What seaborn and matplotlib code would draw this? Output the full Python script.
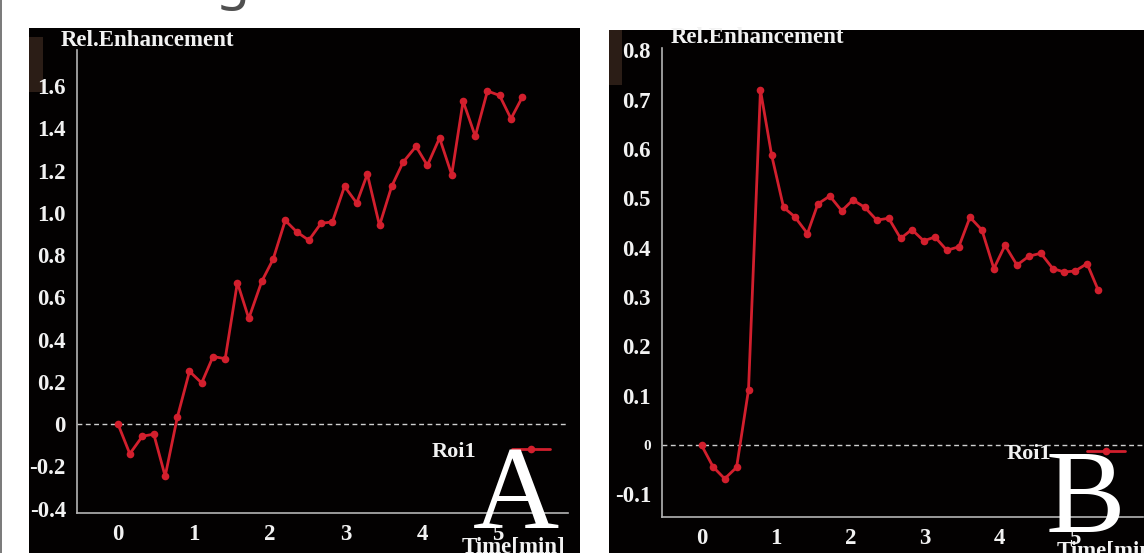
import matplotlib
matplotlib.use("Agg")
import matplotlib.pyplot as plt
from matplotlib.patches import Rectangle
import seaborn as sns
import pandas as pd

# ---------------- data ----------------
time_a = [0.00, 0.155, 0.32, 0.47, 0.62, 0.78, 0.94, 1.10, 1.25, 1.41, 1.57, 1.72,
          1.89, 2.04, 2.20, 2.35, 2.51, 2.67, 2.82, 2.98, 3.14, 3.28, 3.44, 3.60,
          3.75, 3.92, 4.07, 4.23, 4.39, 4.54, 4.70, 4.86, 5.02, 5.17, 5.32]
enh_a = [0.00, -0.14, -0.057, -0.047, -0.246, 0.033, 0.25, 0.195, 0.32, 0.31, 0.67, 0.50,
         0.675, 0.78, 0.964, 0.91, 0.87, 0.95, 0.957, 1.125, 1.046, 1.183, 0.94, 1.125,
         1.239, 1.314, 1.224, 1.354, 1.18, 1.528, 1.362, 1.576, 1.555, 1.445, 1.548]

time_b = [0.00, 0.155, 0.31, 0.47, 0.63, 0.79, 0.94, 1.10, 1.25, 1.42, 1.56, 1.72,
          1.88, 2.03, 2.19, 2.35, 2.51, 2.67, 2.82, 2.98, 3.13, 3.29, 3.45, 3.60,
          3.76, 3.92, 4.07, 4.23, 4.39, 4.55, 4.71, 4.86, 5.01, 5.17, 5.32]
enh_b = [0.00, -0.044, -0.068, -0.045, 0.112, 0.72, 0.588, 0.482, 0.463, 0.429, 0.489, 0.505,
         0.475, 0.497, 0.482, 0.456, 0.46, 0.419, 0.437, 0.414, 0.422, 0.395, 0.402, 0.462,
         0.436, 0.358, 0.405, 0.365, 0.383, 0.389, 0.358, 0.351, 0.353, 0.368, 0.314]

xticks = [0, 1, 2, 3, 4, 5]
xtick_labels = ["0", "1", "2", "3", "4", "5"]
yticks_a = [-0.4, -0.2, 0.0, 0.2, 0.4, 0.6, 0.8, 1.0, 1.2, 1.4, 1.6]
ytick_labels_a = ["-0.4", "-0.2", "0", "0.2", "0.4", "0.6", "0.8", "1.0", "1.2", "1.4", "1.6"]
yticks_b = [-0.1, 0.0, 0.1, 0.2, 0.3, 0.4, 0.5, 0.6, 0.7, 0.8]
ytick_labels_b = ["-0.1", "0", "0.1", "0.2", "0.3", "0.4", "0.5", "0.6", "0.7", "0.8"]
series_name = "Roi1"
ylabel = "Rel.Enhancement"
xlabel = "Time[min]"
panel_letters = ["A", "B"]

# ---------------- style ----------------
sns.set_style("dark")
plt.rcParams["font.family"] = ["Liberation Serif", "DejaVu Serif"]
plt.rcParams["font.weight"] = "bold"

W, H = 1144, 553
fig = plt.figure(figsize=(W / 100, H / 100), dpi=100, facecolor="white")

def fx(px):
    return px / W

def fy(py):
    return 1 - py / H

def rect(x0, y0, x1, y1, color, z=-5):
    fig.add_artist(Rectangle((fx(x0), fy(y1)), fx(x1) - fx(x0), fy(y0) - fy(y1),
                             transform=fig.transFigure, facecolor=color,
                             edgecolor="none", zorder=z))

# panel backgrounds
rect(0, 0, 2, H, "#7c7c7c")
rect(29, 28, 580, H, "#030101")
rect(609, 30, W, H, "#030101")
rect(29, 37, 43, 92, "#2b1d16", -4)
rect(609, 30, 622, 85, "#2b1d16", -4)

# cropped title fragment at top
fig.text(fx(216), fy(-2), "g", family=["Noto Sans", "DejaVu Sans"], weight="normal",
         fontsize=40, color="#505050", ha="left", va="baseline")

RED = "#d21f2d"
AXC = "#b4b4b4"
TXT = "#f2f2f2"
TICK_FS = 16.5


def style_axes(ax, xlim, ylim, yticks, ylabels):
    ax.set_facecolor("#030101")
    ax.set_xlim(*xlim)
    ax.set_ylim(*ylim)
    for s in ["top", "right"]:
        ax.spines[s].set_visible(False)
    for s in ["left", "bottom"]:
        ax.spines[s].set_visible(True)
        ax.spines[s].set_color(AXC)
        ax.spines[s].set_linewidth(1.2)
    ax.grid(False)
    ax.set_xticks(xticks)
    ax.set_xticklabels(xtick_labels)
    ax.set_yticks(yticks)
    ax.set_yticklabels(ylabels)
    ax.tick_params(axis="both", direction="out", length=3, width=1, color=AXC,
                   labelcolor=TXT, labelsize=TICK_FS, pad=5)
    ax.set_xlabel("")
    ax.set_ylabel("")
    ax.axhline(0, color="#cfcfcf", linewidth=1.0, linestyle=(0, (3.5, 2.5)), zorder=1)


def add_legend(ax, anchor):
    leg = ax.legend(loc="center right", bbox_to_anchor=anchor, frameon=False,
                    markerfirst=False, borderpad=0, handlelength=1.7, handletextpad=1.6,
                    prop={"family": "Liberation Serif", "weight": "bold", "size": 16})
    for t in leg.get_texts():
        t.set_color(TXT)


# ---------------- panel A ----------------
axA = fig.add_axes([fx(77), fy(513), fx(568) - fx(77), fy(50) - fy(513)])
dfA = pd.DataFrame({"t": time_a, "v": enh_a})
sns.lineplot(data=dfA, x="t", y="v", ax=axA, color=RED, linewidth=2.0, marker="o",
             markersize=5.5, markeredgewidth=0, label=series_name, zorder=3)
style_axes(axA, (-0.54, 5.92), (-0.42, 1.77), yticks_a, ytick_labels_a)
add_legend(axA, (0.985, 0.132))

# ---------------- panel B ----------------
axB = fig.add_axes([fx(662), fy(516.7), fx(1143) - fx(662), fy(48) - fy(516.7)])
dfB = pd.DataFrame({"t": time_b, "v": enh_b})
sns.lineplot(data=dfB, x="t", y="v", ax=axB, color=RED, linewidth=2.0, marker="o",
             markersize=5.5, markeredgewidth=0, label=series_name, zorder=3)
style_axes(axB, (-0.53, 5.92), (-0.145, 0.805), yticks_b, ytick_labels_b)
for lbl in axB.get_yticklabels():
    if lbl.get_text() == "0":
        lbl.set_fontsize(11)
add_legend(axB, (0.985, 0.134))

# axis titles
fig.text(fx(61), fy(30), ylabel, color=TXT, fontsize=16.5, ha="left", va="top")
fig.text(fx(671), fy(27), ylabel, color=TXT, fontsize=16.5, ha="left", va="top")
fig.text(fx(462), fy(537), xlabel, color=TXT, fontsize=16.5, ha="left", va="top")
fig.text(fx(1057), fy(540), xlabel, color=TXT, fontsize=16.5, ha="left", va="top")

# panel letters
fig.text(fx(516), fy(528), panel_letters[0], color="white", fontsize=86, weight="normal",
         ha="center", va="baseline", zorder=10)
fig.text(fx(1085), fy(532), panel_letters[1], color="white", fontsize=86, weight="normal",
         ha="center", va="baseline", zorder=10)

fig.savefig("out.png", dpi=100, facecolor="white")
